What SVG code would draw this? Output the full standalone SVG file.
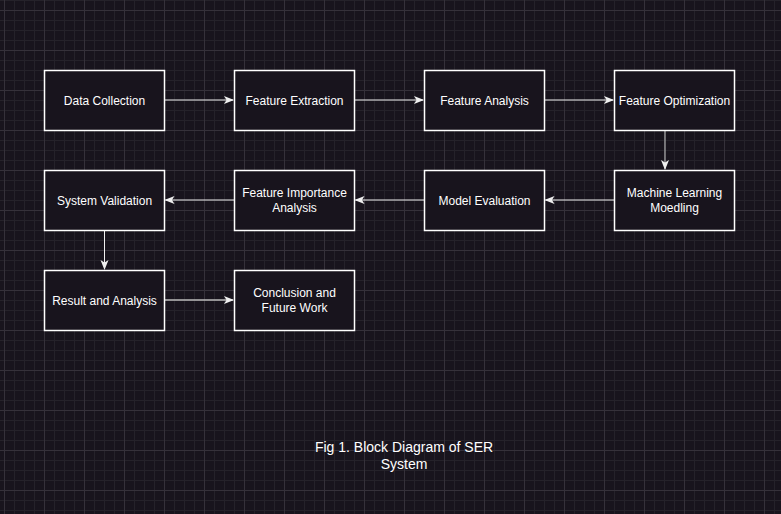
<svg xmlns="http://www.w3.org/2000/svg" width="781" height="514" viewBox="0 0 781 514">
<defs>
<pattern id="minor" x="4" y="0" width="10" height="10" patternUnits="userSpaceOnUse">
<path d="M0 0.5H10M0.5 0V10" fill="none" stroke="#25222a" stroke-width="1"/>
</pattern>
<pattern id="major" x="4" y="10" width="40" height="40" patternUnits="userSpaceOnUse">
<path d="M0 0.5H40M0.5 0V40" fill="none" stroke="#35313a" stroke-width="1"/>
</pattern>
<marker id="ah" viewBox="0 0 10 10" refX="9" refY="5" markerWidth="10" markerHeight="10" markerUnits="userSpaceOnUse" orient="auto">
<path d="M0 1 L10 5 L0 9 L2.5 5 Z" fill="#f0f0f0"/>
</marker>
</defs>
<style>
.node rect{fill:#18141d;stroke:#ffffff;stroke-width:1.5}
.node text{fill:#ffffff;font-family:"Liberation Sans",Arial,sans-serif;font-size:12px;text-anchor:middle}
.edge{stroke:#f0f0f0;stroke-width:1;fill:none;marker-end:url(#ah)}
.cap{fill:#ffffff;font-family:"Liberation Sans",Arial,sans-serif;font-size:14px;text-anchor:middle}
</style>
<rect width="781" height="514" fill="#18141d"/>
<rect width="781" height="514" fill="url(#minor)"/>
<rect width="781" height="514" fill="url(#major)"/>
<g id="connectors">
<path class="edge" d="M164.5 100H233"/>
<path class="edge" d="M354.5 100H423"/>
<path class="edge" d="M544.5 100H613"/>
<path class="edge" d="M665 130.5V169" style="stroke:#cccccc"/>
<path class="edge" d="M614 200H545.5"/>
<path class="edge" d="M424 200H355.5"/>
<path class="edge" d="M234 200H165.5"/>
<path class="edge" d="M104.5 230.5V269"/>
<path class="edge" d="M164.5 300H233" style="stroke:#bbbbbb;stroke-width:1.5"/>
</g>
<g id="n1" class="node"><rect x="44.5" y="70.5" width="120" height="60"/><text x="104.5" y="104.5">Data Collection</text></g>
<g id="n2" class="node"><rect x="234.5" y="70.5" width="120" height="60"/><text x="294.5" y="104.5">Feature Extraction</text></g>
<g id="n3" class="node"><rect x="424.5" y="70.5" width="120" height="60"/><text x="484.5" y="104.5">Feature Analysis</text></g>
<g id="n4" class="node"><rect x="614.5" y="70.5" width="120" height="60"/><text x="674.5" y="104.5">Feature Optimization</text></g>
<g id="n5" class="node"><rect x="614.5" y="170.5" width="120" height="60"/><text x="674.5" y="197">Machine Learning</text><text x="674.5" y="212">Moedling</text></g>
<g id="n6" class="node"><rect x="424.5" y="170.5" width="120" height="60"/><text x="484.5" y="204.5">Model Evaluation</text></g>
<g id="n7" class="node"><rect x="234.5" y="170.5" width="120" height="60"/><text x="294.5" y="197">Feature Importance</text><text x="294.5" y="212">Analysis</text></g>
<g id="n8" class="node"><rect x="44.5" y="170.5" width="120" height="60"/><text x="104.5" y="204.5">System Validation</text></g>
<g id="n9" class="node"><rect x="44.5" y="270.5" width="120" height="60"/><text x="104.5" y="304.5">Result and Analysis</text></g>
<g id="n10" class="node"><rect x="234.5" y="270.5" width="120" height="60"/><text x="294.5" y="297">Conclusion and</text><text x="294.5" y="312">Future Work</text></g>
<g id="caption"><text class="cap" x="404" y="452">Fig 1. Block Diagram of SER</text><text class="cap" x="404" y="469">System</text></g>
</svg>
